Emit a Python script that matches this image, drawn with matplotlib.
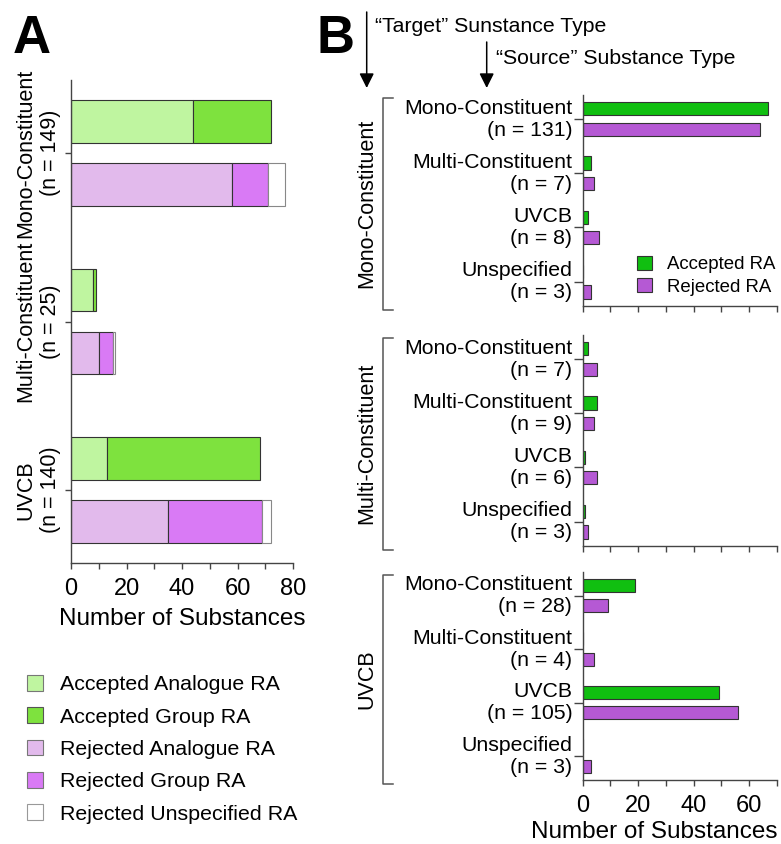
import matplotlib
matplotlib.use("Agg")
import matplotlib.pyplot as plt
import matplotlib.patches as mpatches
from matplotlib.lines import Line2D
import numpy as np

plt.rcParams['font.family'] = ['Liberation Sans', 'DejaVu Sans']

# ---------------- Data: Panel A ----------------
a_categories = ["Mono-Constituent\n(n = 149)", "Multi-Constituent\n(n = 25)", "UVCB\n(n = 140)"]
acc_analogue = [44, 8, 13]
acc_group = [28, 1, 55]
rej_analogue = [58, 10, 35]
rej_group = [13, 5, 34]
rej_unspec = [6, 1, 3]
a_legend_labels = ["Accepted Analogue RA", "Accepted Group RA", "Rejected Analogue RA",
                   "Rejected Group RA", "Rejected Unspecified RA"]

# ---------------- Data: Panel B ----------------
target_types = ["Mono-Constituent", "Multi-Constituent", "UVCB"]
source_types = ["Mono-Constituent", "Multi-Constituent", "UVCB", "Unspecified"]
b_n = [[131, 7, 8, 3],
       [7, 9, 6, 3],
       [28, 4, 105, 3]]
b_accepted = [[67, 3, 2, 0],
              [2, 5, 1, 1],
              [19, 0, 49, 0]]
b_rejected = [[64, 4, 6, 3],
              [5, 4, 5, 2],
              [9, 4, 56, 3]]
b_legend_labels = ["Accepted RA", "Rejected RA"]

# ---------------- Styles ----------------
C_ACC_AN = '#bff5a0'
C_ACC_GR = '#7ee23e'
C_REJ_AN = '#e2baec'
C_REJ_GR = '#d97af5'
C_REJ_UN = '#ffffff'
C_B_ACC = '#10bf10'
C_B_REJ = '#b559d4'
EDGE = '#333333'
SPINE = '#444444'

W, H = 781, 844
fig = plt.figure(figsize=(W / 100, H / 100), dpi=100)

def fx(px):
    return px / W

def fy(py):
    return 1 - py / H

def style_axes(ax):
    for s in ['top', 'right']:
        ax.spines[s].set_visible(False)
    for s in ['left', 'bottom']:
        ax.spines[s].set_color(SPINE)
        ax.spines[s].set_linewidth(1.0)
    ax.tick_params(colors=SPINE, labelcolor='black', width=1.0)

# ---------------- Panel A ----------------
axA = fig.add_axes([fx(71), fy(563), fx(293) - fx(71), fy(80) - fy(563)])
style_axes(axA)
ya = np.arange(len(a_categories))
off = 0.187
hA = 0.25
yacc = ya - off
yrej = ya + off
axA.barh(yacc, acc_analogue, height=hA, color=C_ACC_AN, edgecolor=EDGE, linewidth=0.8)
axA.barh(yacc, acc_group, left=acc_analogue, height=hA, color=C_ACC_GR, edgecolor=EDGE, linewidth=0.8)
axA.barh(yrej, rej_analogue, height=hA, color=C_REJ_AN, edgecolor=EDGE, linewidth=0.8)
left2 = np.array(rej_analogue)
axA.barh(yrej, rej_group, left=left2, height=hA, color=C_REJ_GR, edgecolor=EDGE, linewidth=0.8)
left3 = left2 + np.array(rej_group)
axA.barh(yrej, rej_unspec, left=left3, height=hA, color=C_REJ_UN, edgecolor='#888888', linewidth=0.8)
axA.set_xlim(0, 80)
axA.set_ylim(2.433, -0.433)
axA.set_xticks(np.arange(0, 81, 10))
axA.set_xticklabels([str(v) if v % 20 == 0 else '' for v in range(0, 81, 10)], fontsize=17)
axA.set_yticks(ya)
axA.set_yticklabels(a_categories, rotation=90, va='center', ha='right',
                    multialignment='center', fontsize=15.5)
axA.tick_params(axis='x', length=4.5, pad=6)
axA.tick_params(axis='y', length=4.5, pad=3)
axA.set_xlabel("Number of Substances", fontsize=17.5, labelpad=6)

handlesA = [mpatches.Patch(facecolor=c, edgecolor=e, linewidth=0.8)
            for c, e in [(C_ACC_AN, '#777777'), (C_ACC_GR, '#555555'), (C_REJ_AN, '#777777'),
                         (C_REJ_GR, '#777777'), (C_REJ_UN, '#999999')]]
fig.legend(handlesA, a_legend_labels, loc='upper left', bbox_to_anchor=(fx(27), fy(675)),
           frameon=False, fontsize=15.4, handlelength=0.75, handleheight=0.75,
           handletextpad=0.8, labelspacing=0.61, borderpad=0, borderaxespad=0)

# ---------------- Panel B ----------------
b_boxes = [(95, 305.7), (335, 545.7), (571.7, 780)]
yb = np.arange(len(source_types))
offB = 0.19
hB = 0.245
axesB = []
for i, (top, bot) in enumerate(b_boxes):
    ax = fig.add_axes([fx(582.7), fy(bot), fx(776.7) - fx(582.7), fy(top) - fy(bot)])
    style_axes(ax)
    ax.barh(yb - offB, b_accepted[i], height=hB, color=C_B_ACC, edgecolor=EDGE, linewidth=0.8)
    ax.barh(yb + offB, b_rejected[i], height=hB, color=C_B_REJ, edgecolor=EDGE, linewidth=0.8)
    ax.set_xlim(0, 70)
    ax.set_ylim(3.445, -0.445)
    ax.set_xticks(np.arange(0, 71, 10))
    if i == 2:
        ax.set_xticklabels([str(v) if v % 20 == 0 else '' for v in range(0, 71, 10)], fontsize=17)
    else:
        ax.set_xticklabels([])
    ax.set_yticks(yb)
    labels = [f"{s}\n(n = {n})" for s, n in zip(source_types, b_n[i])]
    ax.set_yticklabels(labels, ha='right', va='center', multialignment='right', fontsize=15.3)
    ax.tick_params(axis='y', length=6.5, pad=1)
    ax.tick_params(axis='x', length=4, pad=7)
    axesB.append(ax)

    # bracket + group label
    xb = 383.3
    y1, y2 = top + 3, bot + 4
    fig.add_artist(Line2D([fx(xb + 10), fx(xb), fx(xb), fx(xb + 10)],
                          [fy(y1), fy(y1), fy(y2), fy(y2)],
                          transform=fig.transFigure, color='#555555', lw=1.1))
    fig.text(fx(367), fy((y1 + y2) / 2), target_types[i], rotation=90,
             ha='center', va='center', fontsize=15.5)

axesB[2].set_xlabel("Number of Substances", fontsize=17.5)
axesB[2].xaxis.set_label_coords(0.37, -0.195)

handlesB = [mpatches.Patch(facecolor=C_B_ACC, edgecolor=EDGE, linewidth=0.8),
            mpatches.Patch(facecolor=C_B_REJ, edgecolor=EDGE, linewidth=0.8)]
fig.legend(handlesB, b_legend_labels, loc='upper left', bbox_to_anchor=(fx(637), fy(256)),
           frameon=False, fontsize=13.4, handlelength=0.78, handleheight=0.78,
           handletextpad=0.85, labelspacing=0.25, borderpad=0, borderaxespad=0)

# ---------------- Headers ----------------
fig.text(fx(13), fy(53), "A", fontsize=38, fontweight='bold', va='baseline', ha='left')
fig.text(fx(317), fy(53), "B", fontsize=38, fontweight='bold', va='baseline', ha='left')
fig.add_artist(mpatches.FancyArrowPatch((fx(366.7), fy(12)), (fx(366.7), fy(88)),
                                        transform=fig.transFigure, arrowstyle='-|>',
                                        mutation_scale=22, color='black', lw=1.1,
                                        shrinkA=0, shrinkB=0))
fig.add_artist(mpatches.FancyArrowPatch((fx(486.7), fy(42)), (fx(486.7), fy(88)),
                                        transform=fig.transFigure, arrowstyle='-|>',
                                        mutation_scale=22, color='black', lw=1.1,
                                        shrinkA=0, shrinkB=0))
fig.text(fx(375), fy(27), "\u201cTarget\u201d Sunstance Type", fontsize=15.3, va='center', ha='left')
fig.text(fx(496), fy(59), "\u201cSource\u201d Substance Type", fontsize=15.3, va='center', ha='left')

fig.savefig("out.png", dpi=100)
